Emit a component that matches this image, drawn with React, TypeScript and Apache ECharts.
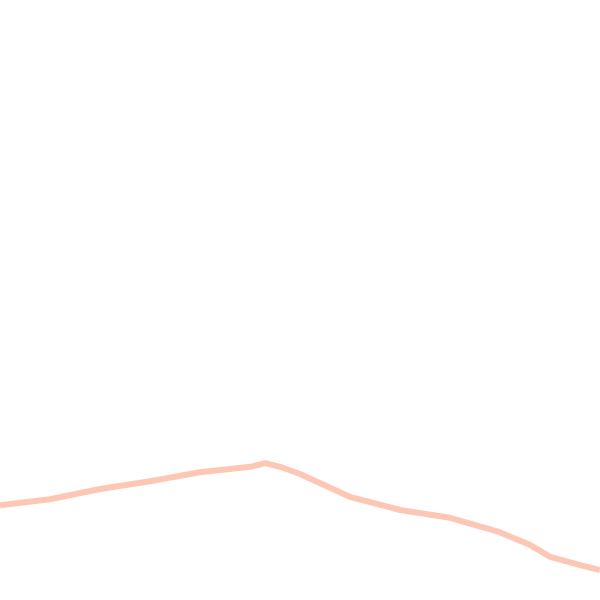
import React, { useEffect, useRef } from 'react';
import * as echarts from 'echarts';

// horizontal position (0-100 across the plot) and value (0-100 up the plot)
const xPos = [0, 8.3, 16.7, 25, 33.3, 41.7, 44.2, 46.7, 50, 58.3, 66.7, 75, 83.3, 88.3, 91.7, 96.7, 100];
const values = [15.8, 16.8, 18.5, 19.8, 21.3, 22.2, 22.8, 22.2, 21.0, 17.2, 15.0, 13.7, 11.3, 9.2, 7.2, 5.8, 5.0];

const App: React.FC = () => {
  const chartRef = useRef<HTMLDivElement>(null);

  useEffect(() => {
    document.body.style.margin = '0';
    const chart = echarts.init(chartRef.current!, undefined, { renderer: 'svg' });

    chart.setOption({
      animation: false,
      grid: { left: 0, right: 0, top: 0, bottom: 0 },
      xAxis: { type: 'value', min: 0, max: 100, show: false },
      yAxis: { type: 'value', min: 0, max: 100, show: false },
      series: [
        {
          type: 'line',
          data: xPos.map((x, i) => [x, values[i]]),
          showSymbol: false,
          lineStyle: { color: '#fcb9a2', width: 6, opacity: 0.8 },
        },
      ],
    });

    return () => {
      chart.dispose();
    };
  }, []);

  return <div ref={chartRef} style={{ width: '600px', height: '600px' }} />;
};

export default App;
